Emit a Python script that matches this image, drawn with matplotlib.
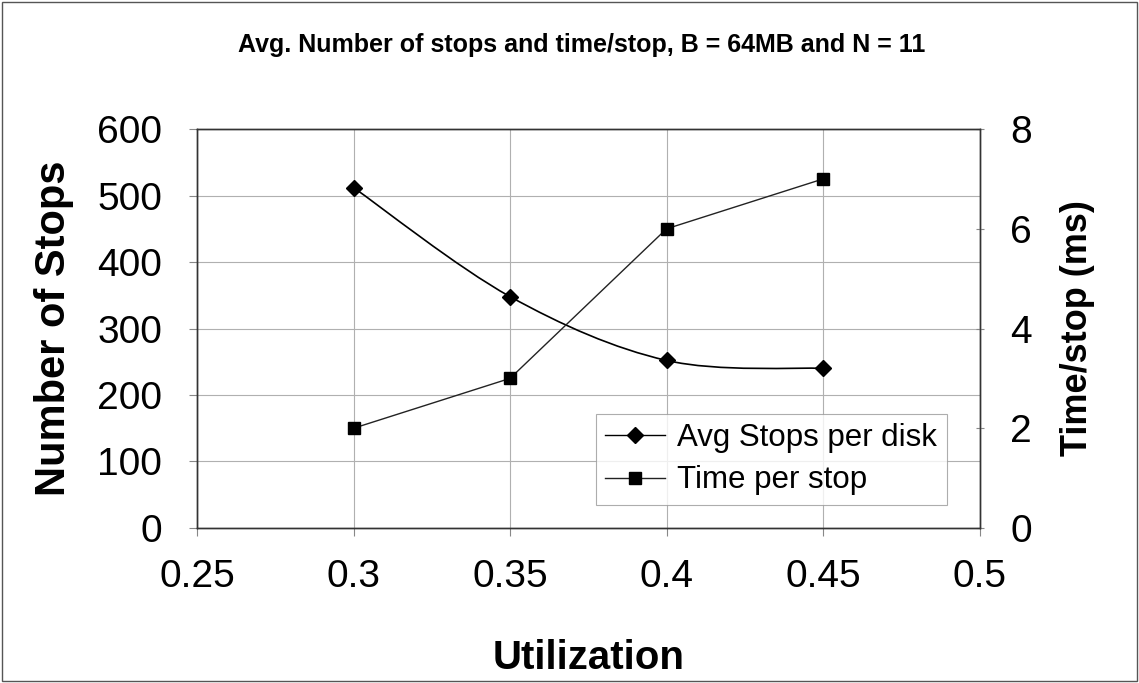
import numpy as np
import matplotlib.pyplot as plt
from matplotlib.path import Path
from matplotlib.patches import PathPatch, Rectangle

plt.rcParams['font.family'] = ['Liberation Sans', 'DejaVu Sans']

# data
utilization = [0.3, 0.35, 0.4, 0.45]
avg_stops = [512, 348, 252, 240]
time_per_stop = [2, 3, 6, 7]

x_ticks = [0.25, 0.3, 0.35, 0.4, 0.45, 0.5]
x_tick_labels = ['0.25', '0.3', '0.35', '0.4', '0.45', '0.5']
left_ticks = [0, 100, 200, 300, 400, 500, 600]
right_ticks = [0, 2, 4, 6, 8]


def smooth_path(xs, ys):
    # Excel-style smoothed line: Catmull-Rom segments as cubic Beziers
    pts = np.column_stack([xs, ys]).astype(float)
    verts = [pts[0]]
    codes = [Path.MOVETO]
    n = len(pts)
    for i in range(n - 1):
        p0 = pts[i - 1] if i > 0 else pts[i]
        p1 = pts[i]
        p2 = pts[i + 1]
        p3 = pts[i + 2] if i + 2 < n else pts[i + 1]
        c1 = p1 + (p2 - p0) / 6
        c2 = p2 - (p3 - p1) / 6
        verts += [c1, c2, p2]
        codes += [Path.CURVE4] * 3
    return Path(verts, codes)


fig = plt.figure(figsize=(11.39, 6.83), dpi=100)
ax = fig.add_axes([0.173, 0.227, 0.687, 0.584])
ax2 = ax.twinx()

fig.patches.append(Rectangle((0.002, 0.003), 0.996, 0.994, transform=fig.transFigure,
                             fill=False, edgecolor='#555555', lw=1))

# Avg stops, smoothed
ax.add_patch(PathPatch(smooth_path(utilization, avg_stops), fill=False,
                       edgecolor='black', lw=1.2, zorder=3))
l1, = ax.plot(utilization, avg_stops, linestyle='none', marker='D',
              color='black', markersize=8.5, zorder=4)

l2, = ax2.plot(utilization, time_per_stop, color='#222222', lw=1.0, marker='s',
               markersize=9, markerfacecolor='black', markeredgecolor='black')

ax.set_xlim(0.25, 0.5)
ax.set_ylim(0, 600)
ax2.set_ylim(0, 8)
ax.set_xticks(x_ticks)
ax.set_xticklabels(x_tick_labels)
ax.set_yticks(left_ticks)
ax2.set_yticks(right_ticks)

ax.grid(True, color='#b0b0b0', lw=0.8)
for a in (ax, ax2):
    for s in a.spines.values():
        s.set_color('#333333')
        s.set_linewidth(1.0)
    a.tick_params(labelsize=28, length=6, color='#888888')
ax.tick_params(axis='y', pad=19)
ax2.tick_params(axis='y', pad=19, direction='inout')
ax.tick_params(axis='x', pad=16)

ax.set_xlabel('Utilization', fontsize=29, fontweight='bold', labelpad=32)
ax.set_ylabel('Number of Stops', fontsize=30, fontweight='bold', labelpad=17)
ax2.set_ylabel('Time/stop (ms)', fontsize=26, fontweight='bold', labelpad=20)

fig.text(0.511, 0.934, 'Avg. Number of stops and time/stop, B = 64MB and N = 11',
         ha='center', va='center', fontsize=18, fontweight='bold')

leg = ax.legend([l1, l2], ['Avg Stops per disk', 'Time per stop'],
                loc='lower left', bbox_to_anchor=(0.51, 0.058),
                fontsize=22.5, frameon=True, fancybox=False, handlelength=1.9,
                borderpad=0.3, labelspacing=0.4, handletextpad=0.4,
                borderaxespad=0)
leg.get_frame().set_edgecolor('#999999')
leg.get_frame().set_linewidth(0.8)
leg.legend_handles[0].set_linestyle('-')
leg.legend_handles[0].set_linewidth(1.0)
leg.legend_handles[0].set_markersize(8)
leg.legend_handles[1].set_markersize(8)
leg.set_zorder(10)

fig.savefig('out.png', dpi=100)
